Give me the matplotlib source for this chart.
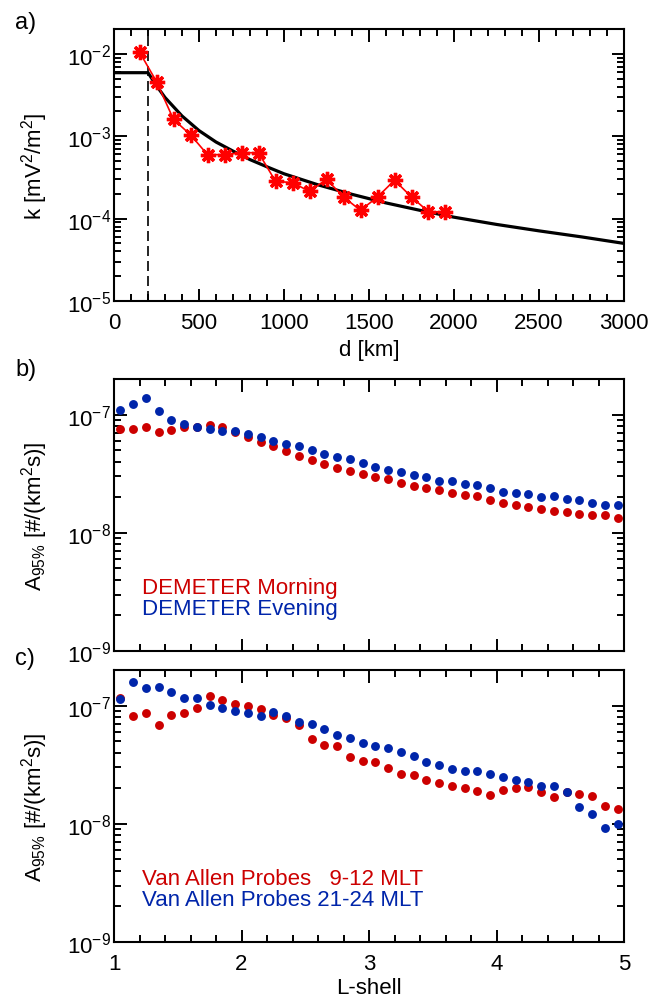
import numpy as np
import matplotlib
matplotlib.use('Agg')
import matplotlib.pyplot as plt
from matplotlib.ticker import LogLocator, MultipleLocator, FixedLocator, NullFormatter

plt.rcParams['font.family'] = ['Liberation Sans', 'DejaVu Sans']
plt.rcParams['mathtext.fontset'] = 'custom'
plt.rcParams['mathtext.rm'] = 'Liberation Sans'
plt.rcParams['mathtext.it'] = 'Liberation Sans:italic'
plt.rcParams['mathtext.bf'] = 'Liberation Sans:bold'

d_km = [150, 250, 350, 450, 550, 650, 750, 850, 950, 1050,
        1150, 1250, 1350, 1450, 1550, 1650, 1750, 1850, 1950]
k_meas = [1.05e-2, 4.6e-3, 1.6e-3, 1.04e-3, 5.97e-4, 5.97e-4, 6.3e-4, 6.3e-4, 2.84e-4, 2.73e-4,
          2.14e-4, 3.0e-4, 1.83e-4, 1.26e-4, 1.83e-4, 2.92e-4, 1.83e-4, 1.21e-4, 1.21e-4]
d_fit = [0, 200, 250, 300, 400, 500, 600, 700, 800, 900, 1000, 1200, 1400,
         1600, 1800, 2000, 2250, 2500, 2750, 3000]
k_fit = [5.9e-3, 5.9e-3, 4.1e-3, 2.95e-3, 1.76e-3, 1.17e-3, 8.5e-4, 6.6e-4, 5.2e-4, 4.25e-4,
         3.5e-4, 2.57e-4, 1.97e-4, 1.55e-4, 1.26e-4, 1.04e-4, 8.5e-5, 7.1e-5, 6.0e-5, 5.0e-5]
d_cut = 200

# panels b and c share the L-shell bins
L = [1.05, 1.15, 1.25, 1.35, 1.45, 1.55, 1.65, 1.75, 1.85, 1.95,
     2.05, 2.15, 2.25, 2.35, 2.45, 2.55, 2.65, 2.75, 2.85, 2.95,
     3.05, 3.15, 3.25, 3.35, 3.45, 3.55, 3.65, 3.75, 3.85, 3.95,
     4.05, 4.15, 4.25, 4.35, 4.45, 4.55, 4.65, 4.75, 4.85, 4.95]

demeter_morning = [7.6e-8, 7.5e-8, 7.8e-8, 7.1e-8, 7.4e-8, 7.8e-8, 7.9e-8, 8.2e-8, 7.9e-8, 7.15e-8,
                   6.5e-8, 5.9e-8, 5.4e-8, 4.9e-8, 4.5e-8, 4.1e-8, 3.8e-8, 3.55e-8, 3.35e-8, 3.13e-8,
                   2.95e-8, 2.83e-8, 2.65e-8, 2.5e-8, 2.37e-8, 2.28e-8, 2.15e-8, 2.07e-8, 2.04e-8, 1.89e-8,
                   1.79e-8, 1.72e-8, 1.66e-8, 1.58e-8, 1.52e-8, 1.49e-8, 1.45e-8, 1.41e-8, 1.41e-8, 1.33e-8]
demeter_evening = [1.09e-7, 1.23e-7, 1.38e-7, 1.07e-7, 9.0e-8, 8.35e-8, 7.8e-8, 7.6e-8, 7.3e-8, 7.25e-8,
                   6.8e-8, 6.5e-8, 5.97e-8, 5.67e-8, 5.38e-8, 4.98e-8, 4.67e-8, 4.35e-8, 4.19e-8, 3.88e-8,
                   3.61e-8, 3.37e-8, 3.28e-8, 3.11e-8, 2.97e-8, 2.75e-8, 2.73e-8, 2.58e-8, 2.53e-8, 2.38e-8,
                   2.22e-8, 2.19e-8, 2.11e-8, 2.0e-8, 2.05e-8, 1.94e-8, 1.89e-8, 1.8e-8, 1.73e-8, 1.72e-8]

rbsp_day = [1.16e-7, 8.1e-8, 8.65e-8, 6.9e-8, 8.3e-8, 8.6e-8, 9.5e-8, 1.21e-7, 1.11e-7, 1.04e-7,
            9.9e-8, 9.4e-8, 8.3e-8, 7.8e-8, 6.85e-8, 5.2e-8, 4.67e-8, 4.58e-8, 3.65e-8, 3.42e-8,
            3.35e-8, 2.95e-8, 2.64e-8, 2.59e-8, 2.36e-8, 2.21e-8, 2.07e-8, 2.02e-8, 1.88e-8, 1.76e-8,
            1.93e-8, 2.01e-8, 2.04e-8, 1.87e-8, 1.7e-8, 1.85e-8, 1.8e-8, 1.72e-8, 1.42e-8, 1.33e-8]
rbsp_night = [1.14e-7, 1.59e-7, 1.4e-7, 1.45e-7, 1.31e-7, 1.17e-7, 1.17e-7, 1.02e-7, 9.6e-8, 9.0e-8,
              8.6e-8, 8.2e-8, 8.77e-8, 8.1e-8, 7.2e-8, 6.98e-8, 6.33e-8, 5.64e-8, 5.35e-8, 4.8e-8,
              4.58e-8, 4.4e-8, 4.03e-8, 3.77e-8, 3.35e-8, 3.16e-8, 2.89e-8, 2.8e-8, 2.78e-8, 2.64e-8,
              2.49e-8, 2.35e-8, 2.25e-8, 2.07e-8, 2.1e-8, 1.85e-8, 1.4e-8, 1.2e-8, 9.3e-9, 1.0e-8]

red = '#CC0000'
blue = '#0025AA'
fs = 16

fig = plt.figure(figsize=(6.52, 10.04), dpi=100)
ax_a = fig.add_axes([114/652, 1-302/1004, 510/652, 272/1004])
ax_b = fig.add_axes([114/652, 1-652/1004, 510/652, 272/1004])
ax_c = fig.add_axes([114/652, 1-943/1004, 510/652, 272/1004])


def style(ax):
    for s in ax.spines.values():
        s.set_linewidth(1.5)
    ax.tick_params(which='both', direction='in', top=True, right=True, labelsize=fs, width=1.4)
    ax.tick_params(which='major', length=9)
    ax.tick_params(which='minor', length=5)
    ax.tick_params(axis='y', pad=2)
    ax.tick_params(axis='x', pad=8)
    ax.yaxis.set_minor_locator(LogLocator(base=10, subs=np.arange(2, 10)))
    ax.yaxis.set_minor_formatter(NullFormatter())


# panel a
ax_a.set_yscale('log')
ax_a.plot(d_fit, k_fit, color='black', lw=2.3, zorder=2)
ax_a.axvline(d_cut, color='black', lw=1.2, ls=(0, (6, 3)), zorder=1)
ax_a.plot(d_km, k_meas, color='#FF0000', lw=1.2, marker=(8, 2, 0), ms=11, mew=2.4, zorder=3)
ax_a.set_xlim(0, 3000)
ax_a.set_ylim(1e-5, 2e-2)
style(ax_a)
ax_a.xaxis.set_major_locator(MultipleLocator(500))
ax_a.xaxis.set_minor_locator(MultipleLocator(100))
ax_a.yaxis.set_major_locator(FixedLocator([1e-5, 1e-4, 1e-3, 1e-2]))
ax_a.set_yticklabels([r'$10^{-5}$', r'$10^{-4}$', r'$10^{-3}$', r'$10^{-2}$'])
ax_a.set_xlabel('d [km]', fontsize=fs)
ax_a.set_ylabel(r'k [mV$^2$/m$^2$]', fontsize=fs)
ax_a.xaxis.set_label_coords(0.5, -0.14)
ax_a.yaxis.set_label_coords(-0.126, 0.5)

# panels b and c
decades = [1e-9, 1e-8, 1e-7]
dec_labels = [r'$10^{-9}$', r'$10^{-8}$', r'$10^{-7}$']
for ax, ys, names in [(ax_b, (demeter_morning, demeter_evening),
                       ('DEMETER Morning', 'DEMETER Evening')),
                      (ax_c, (rbsp_day, rbsp_night),
                       ('Van Allen Probes   9-12 MLT', 'Van Allen Probes 21-24 MLT'))]:
    ax.set_yscale('log')
    ax.plot(L, ys[0], 'o', color=red, ms=6.4, mew=0)
    ax.plot(L, ys[1], 'o', color=blue, ms=6.4, mew=0)
    ax.set_xlim(1, 5)
    ax.set_ylim(1e-9, 2e-7)
    style(ax)
    ax.xaxis.set_major_locator(MultipleLocator(1))
    ax.xaxis.set_minor_locator(MultipleLocator(0.2))
    ax.yaxis.set_major_locator(FixedLocator(decades))
    ax.set_yticklabels(dec_labels)
    ax.set_ylabel(r'A$_{95\%}$ [#/(km$^2$s)]', fontsize=fs)
    ax.yaxis.set_label_coords(-0.126, 0.5)
    ax.text(0.054, 0.213, names[0], color=red, fontsize=fs, transform=ax.transAxes)
    ax.text(0.054, 0.136, names[1], color=blue, fontsize=fs, transform=ax.transAxes)

ax_b.tick_params(axis='x', labelbottom=False)
ax_c.set_xlabel('L-shell', fontsize=fs)
ax_c.xaxis.set_label_coords(0.5, -0.128)

fig.text(15/652, 1-23/1004, 'a)', fontsize=17, va='center')
fig.text(15/652, 1-370/1004, 'b)', fontsize=17, va='center')
fig.text(15/652, 1-659/1004, 'c)', fontsize=17, va='center')

fig.savefig('out.png', dpi=100)
